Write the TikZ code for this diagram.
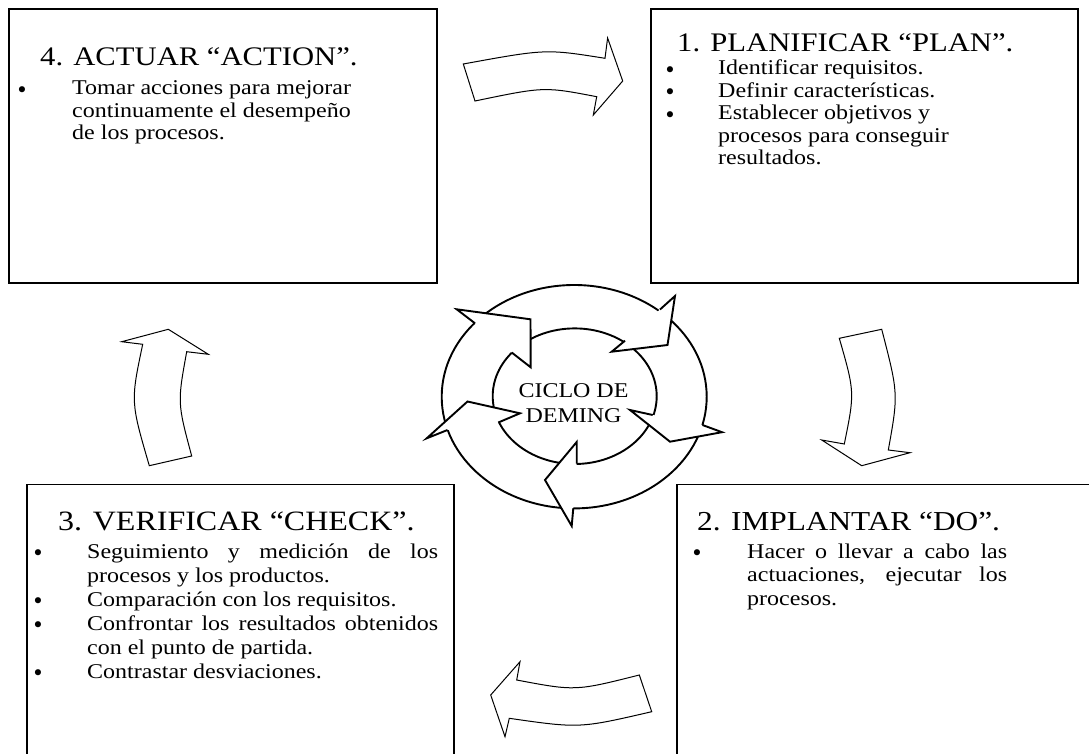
\documentclass[tikz,border=0pt]{standalone}
\usepackage{fontspec}
\setmainfont{Liberation Serif}
\newfontfamily\serf[FakeStretch=1.143]{Liberation Serif}
\newfontfamily\bulf{DejaVu Sans}
\tikzset{
  box/.style={draw=black, line width=1.1pt},
  ttl/.style={anchor=base west, inner sep=0pt, font=\serf\fontsize{26.8}{30}\selectfont},
  txt/.style={anchor=base west, inner sep=0pt, font=\serf\fontsize{21}{24}\selectfont},
  bul/.style={anchor=base, inner sep=0pt, yshift=-2.5pt, font=\bulf\fontsize{21}{22}\selectfont},
  barrow/.style={draw=black, line width=1pt, fill=white, line join=miter},
  ring/.style={draw=black, line width=1.9pt},
  head/.style={fill=white, draw=black, line width=1.9pt, line join=miter},
}
\begin{document}
\begin{tikzpicture}[x=1pt,y=-1pt]
\useasboundingbox (0,0) rectangle (1089,754);
\fill[white] (0,0) rectangle (1089,754);
\clip (0,0) rectangle (1089,754);

% boxes
\draw[box] (9,9) rectangle (437,283);
\draw[box] (651,9) rectangle (1078,283);
\draw[box] (27,760) -- (27,484.5) -- (454,484.5) -- (454,760);
\draw[box] (677,760) -- (677,484.5) -- (1095,484.5);

% box 4
\node[ttl] (t4) at (40,66) {4. ACTUAR “ACTION”.};
\node[bul] (b4a) at (22,95) {•};
\node[txt] (l4a) at (72,95) {Tomar acciones para mejorar};
\node[txt] (l4b) at (72,117.5) {continuamente el desempeño};
\node[txt] (l4c) at (72,140) {de los procesos.};

% box 1
\node[ttl] (t1) at (677,52) {1. PLANIFICAR “PLAN”.};
\node[bul] (b1a) at (670,75) {•};
\node[bul] (b1b) at (670,97.5) {•};
\node[bul] (b1c) at (670,120) {•};
\node[txt] (l1a) at (718,75) {Identificar requisitos.};
\node[txt] (l1b) at (718,97.5) {Definir características.};
\node[txt] (l1c) at (718,120) {Establecer objetivos y};
\node[txt] (l1d) at (718,142.5) {procesos para conseguir};
\node[txt] (l1e) at (718,165) {resultados.};

% box 3
\node[ttl, font=\serf\fontsize{28}{30}\selectfont] (t3) at (58,530) {3. VERIFICAR “CHECK”.};
\node[bul] (b3a) at (38,558) {•};
\node[bul] (b3b) at (38,606) {•};
\node[bul] (b3c) at (38,630) {•};
\node[bul] (b3d) at (38,678) {•};
\node[txt] (l3a) at (87,558) {\makebox[351pt][s]{Seguimiento y medición de los}};
\node[txt] (l3b) at (87,582) {procesos y los productos.};
\node[txt] (l3c) at (87,606) {Comparación con los requisitos.};
\node[txt] (l3d) at (87,630) {\makebox[351pt][s]{Confrontar los resultados obtenidos}};
\node[txt] (l3e) at (87,654) {con el punto de partida.};
\node[txt] (l3f) at (87,678) {Contrastar desviaciones.};

% box 2
\node[ttl, font=\serf\fontsize{27.4}{30}\selectfont] (t2) at (697,530) {2. IMPLANTAR “DO”.};
\node[bul] (b2a) at (697,558) {•};
\node[txt] (l2a) at (747,558) {\makebox[260pt][s]{Hacer o llevar a cabo las}};
\node[txt] (l2b) at (747,581.5) {\makebox[260pt][s]{actuaciones, ejecutar los}};
\node[txt] (l2c) at (747,605) {procesos.};

% block arrows between boxes
\filldraw[barrow] (463.3,64) .. controls (545.9,48.9) .. (605,58.3) -- (607.6,38) -- (622.7,81)
  -- (593.3,115) -- (596.7,96.7) .. controls (544.2,86.6) .. (475,101) -- cycle;
\filldraw[barrow] (839.3,338.3) -- (881.7,329.3) .. controls (898.4,393.8) .. (888.3,450)
  -- (910,452.7) -- (861.7,465.7) -- (821.7,440) -- (844.3,444) .. controls (854.8,392.3) .. cycle;
\filldraw[barrow] (490.7,695) -- (520,661.7) -- (516.7,680) .. controls (575.4,691.1) .. (639.3,675)
  -- (651.7,711.7) .. controls (579.5,728.4) .. (509.3,718.3) -- (505,736.7) -- cycle;
\filldraw[barrow] (168.3,329.3) -- (208.3,354.3) -- (186.7,351.7) .. controls (177.4,402.8) .. (191.7,456)
  -- (149.3,465.7) .. controls (130.6,401.6) .. (142.7,344.3) -- (121.7,341.7) -- cycle;

% cycle ring
\draw[ring] (574.2,396.7) ellipse [x radius=132.5, y radius=111.7];
\draw[ring] (574.7,396.2) ellipse [x radius=82, y radius=67.8];
% heads
\filldraw[head] (475,323.3) -- (456.7,309.3) -- (530.5,319.3) -- (530.7,367.3) -- (511.7,352.5);
\filldraw[head] (660,309.5) -- (675,296) -- (667.5,345) -- (611.7,351.7) -- (625,340.7);
\filldraw[head] (702.5,425) -- (722,432.2) -- (670,441.7) -- (630,410) -- (652.7,415);
\filldraw[head] (573.3,508.2) -- (571.7,526) -- (545,480) -- (576.7,442) -- (576.7,463.5);
\filldraw[head] (447.5,430) -- (426.7,438.3) -- (467.5,401.5) -- (520,413.3) -- (498.3,422.5);

\node[align=center, inner sep=0pt, font=\serf\fontsize{21}{25}\selectfont] (cic) at (573.5,403) {CICLO DE\\DEMING};
\end{tikzpicture}
\end{document}
